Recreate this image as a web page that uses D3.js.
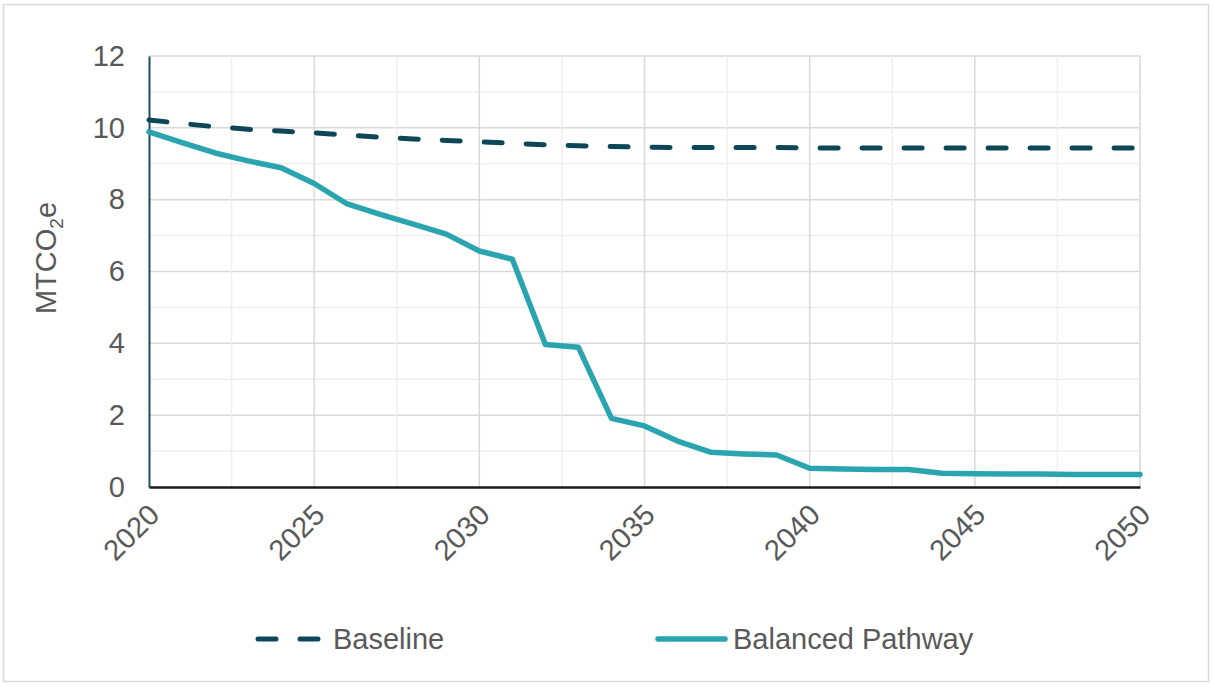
<!DOCTYPE html>
<html>
<head>
<meta charset="utf-8">
<script src="https://cdn.jsdelivr.net/npm/d3@7"></script>
<style>
  html, body { margin: 0; padding: 0; background: #fff; }
  svg { display: block; font-family: "Liberation Sans", Arial, sans-serif; }
</style>
</head>
<body>
<svg id="chart" width="1213" height="685"></svg>
<script>
// Annual emissions, 2020–2050 (MTCO2e)
const years = d3.range(2020, 2051);
const baseline = [10.22, 10.12, 10.03, 9.96, 9.91, 9.86, 9.80, 9.74, 9.69, 9.65, 9.61,
                  9.57, 9.53, 9.50, 9.48, 9.46, 9.45, 9.45, 9.45, 9.45, 9.44,
                  9.44, 9.44, 9.44, 9.44, 9.44, 9.44, 9.44, 9.44, 9.44, 9.44];
const balanced = [9.89, 9.59, 9.30, 9.08, 8.89, 8.45, 7.88, 7.59, 7.32, 7.04, 6.57,
                  6.34, 3.97, 3.89, 1.91, 1.70, 1.28, 0.97, 0.92, 0.89, 0.52,
                  0.50, 0.49, 0.49, 0.38, 0.37, 0.36, 0.36, 0.35, 0.35, 0.35];
const xTickLabels = [2020, 2025, 2030, 2035, 2040, 2045, 2050];
const yTickLabels = [0, 2, 4, 6, 8, 10, 12];
const seriesNames = ["Baseline", "Balanced Pathway"];

const svg = d3.select("#chart");
const W = 1213, H = 685;
const m = { left: 149, right: 1140, top: 56, bottom: 487 };

const textColor = "#595959";
const baseColor = "#0c4657";
const balColor = "#2aa5b0";
const fontSize = "29px";

// outer frame
svg.append("rect")
  .attr("x", 3.5).attr("y", 4.5)
  .attr("width", W - 8).attr("height", H - 8)
  .attr("fill", "#fff").attr("stroke", "#d9d9d9").attr("stroke-width", 1.5);

const x = d3.scaleLinear().domain([2020, 2050]).range([m.left, m.right]);
const y = d3.scaleLinear().domain([0, 12]).range([m.bottom, m.top]);

const grid = svg.append("g");
// horizontal gridlines every 1 unit
d3.range(1, 13).forEach(v => {
  grid.append("line")
    .attr("x1", m.left).attr("x2", m.right)
    .attr("y1", y(v)).attr("y2", y(v))
    .attr("stroke", v % 2 === 0 ? "#d9d9d9" : "#efefef")
    .attr("stroke-width", 1.5);
});
// vertical gridlines every 2.5 years
d3.range(2022.5, 2050.1, 2.5).forEach(v => {
  grid.append("line")
    .attr("x1", x(v)).attr("x2", x(v))
    .attr("y1", m.top).attr("y2", m.bottom)
    .attr("stroke", v % 5 === 0 ? "#d9d9d9" : "#efefef")
    .attr("stroke-width", 1.5);
});

// y axis
const yAxis = svg.append("g")
  .attr("transform", `translate(${m.left},0)`)
  .call(d3.axisLeft(y).tickValues(yTickLabels).tickSize(0).tickPadding(24));
yAxis.select(".domain").attr("stroke", "#184e5e").attr("stroke-width", 2);
yAxis.selectAll("text")
  .attr("fill", textColor).style("font-size", fontSize)
  .attr("font-family", "Liberation Sans, Arial, sans-serif");

// x axis
const xAxis = svg.append("g")
  .attr("transform", `translate(0,${m.bottom})`)
  .call(d3.axisBottom(x).tickValues(xTickLabels).tickFormat(d3.format("d")).tickSize(0));
xAxis.select(".domain").attr("stroke", "#1a1a1a").attr("stroke-width", 2.5);
xAxis.selectAll("text")
  .attr("fill", textColor).style("font-size", fontSize)
  .attr("font-family", "Liberation Sans, Arial, sans-serif")
  .attr("text-anchor", "end")
  .attr("dy", null).attr("y", 0)
  .attr("transform", "translate(-3,15) rotate(-45)")
  .attr("dominant-baseline", "hanging");

// y axis title with subscript
const yt = svg.append("text")
  .attr("transform", `translate(56,258) rotate(-90)`)
  .attr("text-anchor", "middle")
  .attr("fill", textColor)
  .style("font-size", fontSize);
yt.append("tspan").text("MTCO");
yt.append("tspan").text("2").style("font-size", "19px").attr("dy", 7);
yt.append("tspan").text("e").attr("dy", -7);

// series
const line = d3.line().x((d, i) => x(years[i])).y(d => y(d));

svg.append("path")
  .datum(balanced)
  .attr("d", line)
  .attr("fill", "none")
  .attr("stroke", balColor)
  .attr("stroke-width", 5.5)
  .attr("stroke-linejoin", "round")
  .attr("stroke-linecap", "round");

svg.append("path")
  .datum(baseline)
  .attr("d", line)
  .attr("fill", "none")
  .attr("stroke", baseColor)
  .attr("stroke-width", 5)
  .attr("stroke-dasharray", "18 24")
  .attr("stroke-linecap", "round");

// legend
const leg = svg.append("g");
const legY = 639;
leg.append("line")
  .attr("x1", 258).attr("x2", 318).attr("y1", legY).attr("y2", legY)
  .attr("stroke", baseColor).attr("stroke-width", 5)
  .attr("stroke-dasharray", "18 24").attr("stroke-linecap", "round");
leg.append("text")
  .attr("x", 333).attr("y", legY).attr("dy", "0.36em")
  .attr("fill", textColor).style("font-size", fontSize)
  .text(seriesNames[0]);
leg.append("line")
  .attr("x1", 658).attr("x2", 725).attr("y1", legY).attr("y2", legY)
  .attr("stroke", balColor).attr("stroke-width", 5.5)
  .attr("stroke-linecap", "round");
leg.append("text")
  .attr("x", 733).attr("y", legY).attr("dy", "0.36em")
  .attr("fill", textColor).style("font-size", fontSize)
  .text(seriesNames[1]);
</script>
</body>
</html>
